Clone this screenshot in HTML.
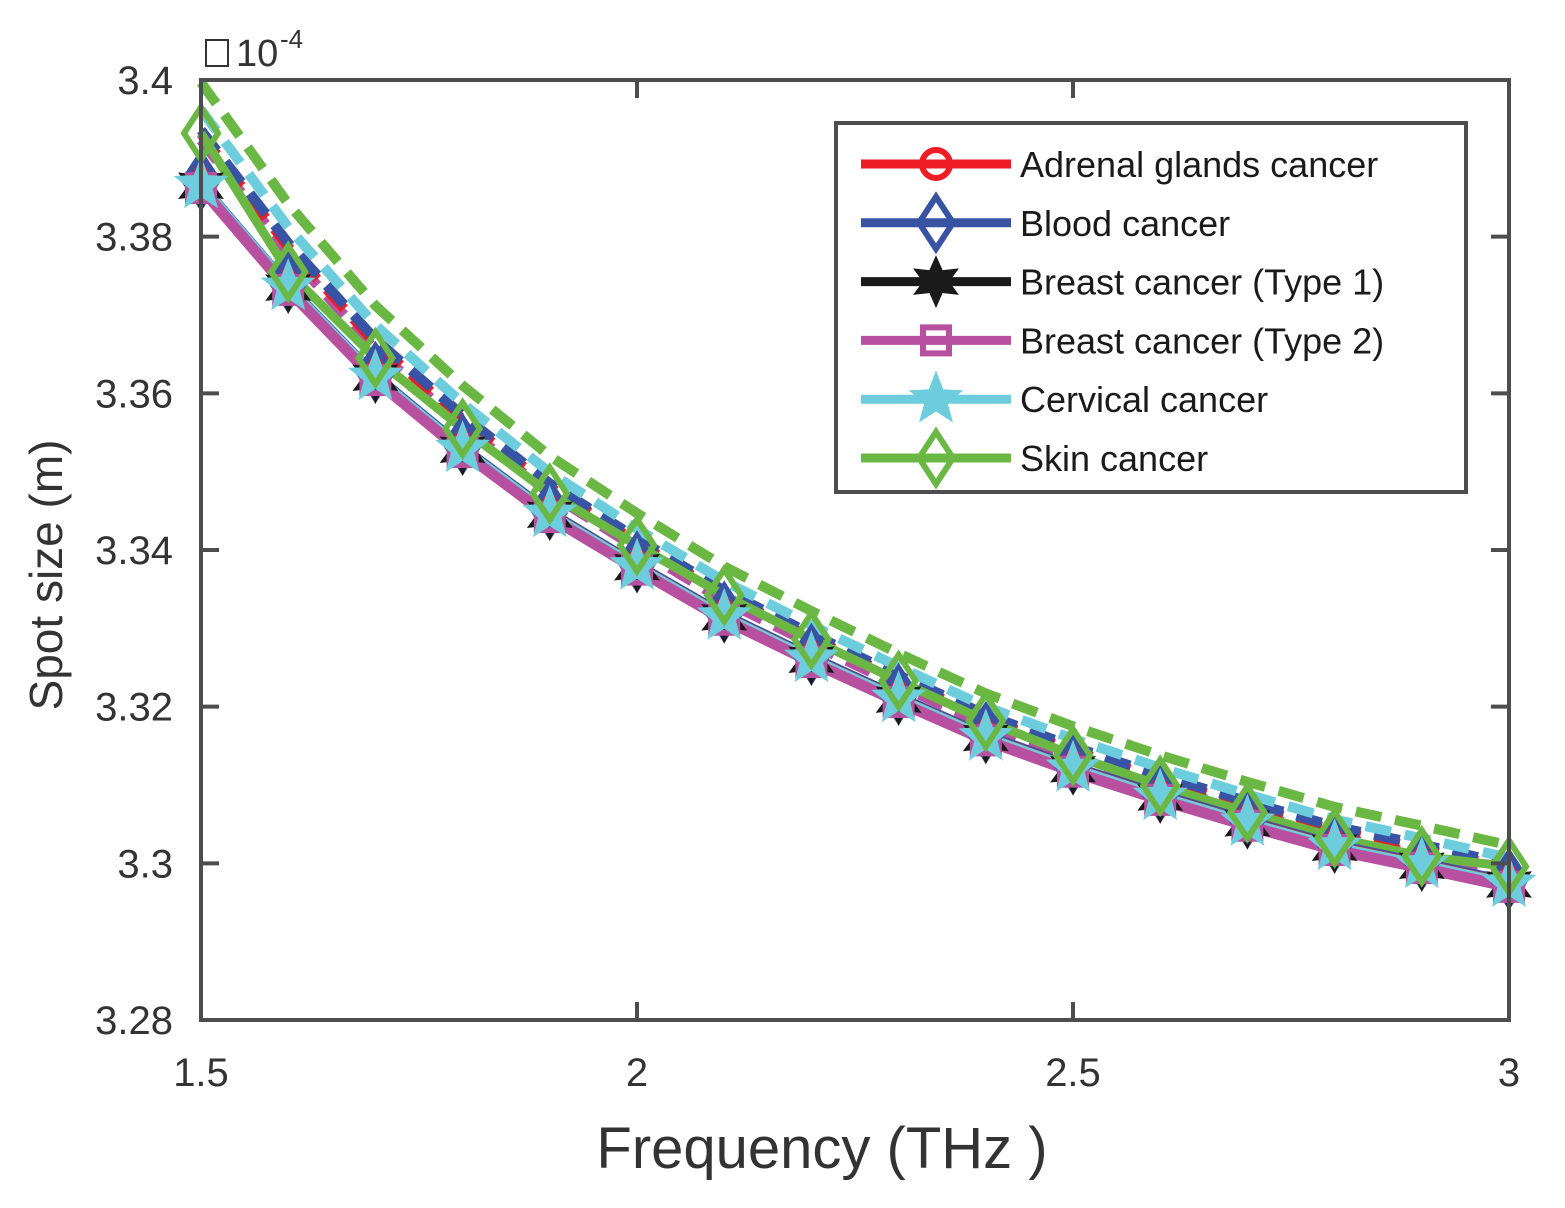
<!DOCTYPE html>
<html><head><meta charset="utf-8"><style>
html,body{margin:0;padding:0;background:#fff;}
svg text{font-family:"Liberation Sans",sans-serif;fill:#333;}
</style></head><body>
<svg id="chart" width="1565" height="1203" viewBox="0 0 1565 1203" xmlns="http://www.w3.org/2000/svg">
<g id="plot"></g>
<rect x="201" y="80" width="1308" height="940" fill="none" stroke="#4d4d4d" stroke-width="4"/>
<g id="ticks"></g>
<text x="822" y="1168" font-size="58" text-anchor="middle">Frequency (THz )</text>
<text x="0" y="0" font-size="46" text-anchor="middle" transform="translate(62,575) rotate(-90)">Spot size (m)</text>
<g>
<rect x="206" y="40" width="22" height="26" fill="none" stroke="#333" stroke-width="2"/>
<text x="236" y="66" font-size="38">10</text>
<text x="280" y="48" font-size="26">-4</text>
</g>
<g id="legend">
<rect x="836" y="123" width="630" height="369" fill="#fff" stroke="#4d4d4d" stroke-width="4"/>
</g>
</svg>
<script>
const freqs=[1.5,1.6,1.7,1.8,1.9,2.0,2.1,2.2,2.3,2.4,2.5,2.6,2.7,2.8,2.9,3.0];
const xTicks=[1.5,2,2.5,3];
const xTickLabels=["1.5","2","2.5","3"];
const yTicks=[3.28,3.30,3.32,3.34,3.36,3.38,3.40];
const yTickLabels=["3.28","3.3","3.32","3.34","3.36","3.38","3.4"];
const seriesNames=["Adrenal glands cancer","Blood cancer","Breast cancer (Type 1)","Breast cancer (Type 2)","Cervical cancer","Skin cancer"];
const adrenalSolid=[3.3870,3.3740,3.3625,3.3533,3.3450,3.3383,3.3319,3.3265,3.3214,3.3165,3.3125,3.3089,3.3056,3.3025,3.3002,3.2978];
const adrenalDashed=[3.3931,3.3787,3.3664,3.3567,3.3480,3.3410,3.3343,3.3288,3.3235,3.3185,3.3144,3.3107,3.3074,3.3042,3.3019,3.2994];
const bloodSolid=[3.3872,3.3742,3.3627,3.3535,3.3452,3.3385,3.3321,3.3267,3.3216,3.3167,3.3127,3.3091,3.3058,3.3027,3.3004,3.2980];
const bloodDashed=[3.3936,3.3792,3.3669,3.3572,3.3485,3.3415,3.3348,3.3293,3.3240,3.3190,3.3149,3.3112,3.3079,3.3047,3.3024,3.2999];
const breast1Solid=[3.3865,3.3735,3.3620,3.3528,3.3445,3.3378,3.3314,3.3260,3.3209,3.3160,3.3120,3.3084,3.3051,3.3020,3.2997,3.2973];
const breast2Solid=[3.3862,3.3732,3.3617,3.3525,3.3442,3.3375,3.3311,3.3257,3.3206,3.3157,3.3117,3.3081,3.3048,3.3017,3.2994,3.2970];
const breast2Dashed=[3.3923,3.3779,3.3656,3.3559,3.3472,3.3402,3.3335,3.3280,3.3227,3.3177,3.3136,3.3099,3.3066,3.3034,3.3011,3.2986];
const cervicalSolid=[3.3866,3.3736,3.3621,3.3529,3.3446,3.3379,3.3315,3.3261,3.3210,3.3161,3.3121,3.3085,3.3052,3.3021,3.2998,3.2974];
const cervicalDashed=[3.3962,3.3812,3.3687,3.3587,3.3499,3.3427,3.3360,3.3304,3.3251,3.3200,3.3159,3.3122,3.3088,3.3056,3.3032,3.3007];
const skinSolid=[3.3932,3.3755,3.3645,3.3555,3.3472,3.3406,3.3342,3.3286,3.3233,3.3182,3.3138,3.3099,3.3065,3.3033,3.3009,3.2996];
const skinDashed=[3.3997,3.3842,3.3712,3.3610,3.3520,3.3447,3.3379,3.3322,3.3268,3.3217,3.3175,3.3138,3.3104,3.3072,3.3048,3.3023];

const NS="http://www.w3.org/2000/svg";
const X=v=>201+(v-1.5)/1.5*1308;
const Y=v=>80+(3.40-v)/0.12*940;
function mk(tag,attrs,parent){const e=document.createElementNS(NS,tag);for(const k in attrs)e.setAttribute(k,attrs[k]);parent.appendChild(e);return e;}
const plot=document.getElementById('plot');
const ticks=document.getElementById('ticks');
const legend=document.getElementById('legend');

function pts(arr){return arr.map((v,i)=>X(freqs[i]).toFixed(1)+","+Y(v).toFixed(1)).join(" ");}
function line(arr,color,w,dash,name){
  const p=mk('polyline',{points:pts(arr),fill:'none',stroke:color,'stroke-width':w,'stroke-linejoin':'round'},plot);
  if(dash)p.setAttribute('stroke-dasharray',dash);
  
  
}
function starPts(cx,cy,n,ro,ri){let s=[];for(let k=0;k<2*n;k++){const r=k%2?ri:ro;const a=-Math.PI/2+k*Math.PI/n;s.push((cx+r*Math.cos(a)).toFixed(1)+","+(cy+r*Math.sin(a)).toFixed(1));}return s.join(" ");}
function marker(type,cx,cy,color,parent){
  let e;
  if(type==='circle')e=mk('circle',{cx:cx,cy:cy,r:14,fill:'none',stroke:color,'stroke-width':6},parent);
  else if(type==='diamond')e=mk('polygon',{points:`${cx},${cy-26} ${cx+17},${cy} ${cx},${cy+26} ${cx-17},${cy}`,fill:'none',stroke:color,'stroke-width':6},parent);
  else if(type==='hex')e=mk('polygon',{points:starPts(cx,cy,6,24,12),fill:color,stroke:color,'stroke-width':2},parent);
  else if(type==='square')e=mk('rect',{x:cx-13,y:cy-13,width:26,height:26,fill:'none',stroke:color,'stroke-width':6},parent);
  else if(type==='star')e=mk('polygon',{points:starPts(cx,cy,5,26,11),fill:color,stroke:color,'stroke-width':2},parent);
  return e;
}
function markers(arr,type,color,name){
  arr.forEach((v,i)=>{
    const m=marker(type,X(freqs[i]),Y(v),color,plot);
    
    
  });
}
const RED='#ee1c25',BLUE='#3953a4',BLACK='#1a1a1a',PINK='#b7519f',CYAN='#6dcddc',GREEN='#6ab843';
const DASH='26 14';
line(breast2Dashed,PINK,10,DASH,'breast2-dashed-line');
line(adrenalDashed,RED,10,DASH,'adrenal-dashed-line');
line(bloodDashed,BLUE,10,DASH,'blood-dashed-line');
line(cervicalDashed,CYAN,10,DASH,'cervical-dashed-line');
line(skinDashed,GREEN,10,DASH,'skin-dashed-line');
line(skinSolid,GREEN,9,null,'skin-line');
line(bloodSolid,BLUE,5,null,'blood-line');
line(adrenalSolid,RED,5,null,'adrenal-line');
line(breast1Solid,BLACK,5,null,'breast1-line');
line(cervicalSolid,CYAN,10,null,'cervical-line');
line(breast2Solid,PINK,11,null,'breast2-line');
markers(adrenalSolid,'circle',RED,'adrenal-marker');
markers(bloodSolid,'diamond',BLUE,'blood-marker');
markers(breast1Solid,'hex',BLACK,'breast1-marker');
markers(breast2Solid,'square',PINK,'breast2-marker');
markers(cervicalSolid,'star',CYAN,'cervical-marker');
markers(skinSolid,'diamond',GREEN,'skin-marker');

xTicks.forEach((v,i)=>{
  const x=X(v);
  const t1=mk('line',{x1:x,y1:1020,x2:x,y2:1002,stroke:'#4d4d4d','stroke-width':4},ticks);
  
  
  const t2=mk('line',{x1:x,y1:80,x2:x,y2:98,stroke:'#4d4d4d','stroke-width':4},ticks);
  
  
  const t=mk('text',{x:x,y:1086,'font-size':40,'text-anchor':'middle'},ticks);
  t.textContent=xTickLabels[i];
  
  
});
yTicks.forEach((v,i)=>{
  const y=Y(v);
  const t1=mk('line',{x1:201,y1:y,x2:219,y2:y,stroke:'#4d4d4d','stroke-width':4},ticks);
  
  
  const t2=mk('line',{x1:1509,y1:y,x2:1491,y2:y,stroke:'#4d4d4d','stroke-width':4},ticks);
  
  
  const t=mk('text',{x:173,y:y+14,'font-size':40,'text-anchor':'end'},ticks);
  t.textContent=yTickLabels[i];
  
  
});

const legColors=[RED,BLUE,BLACK,PINK,CYAN,GREEN];
const legTypes=['circle','diamond','hex','square','star','diamond'];
seriesNames.forEach((n,i)=>{
  const y=164+i*58.8;
  const g=mk('g',{},legend);
  
  
  mk('line',{x1:861,y1:y,x2:1011,y2:y,stroke:legColors[i],'stroke-width':9},g);
  marker(legTypes[i],936,y,legColors[i],g);
  const t=mk('text',{x:1020,y:y+13,'font-size':36},g);
  t.setAttribute('style','fill:#1a1a1a');
  t.textContent=n;
});
</script>
</body></html>
